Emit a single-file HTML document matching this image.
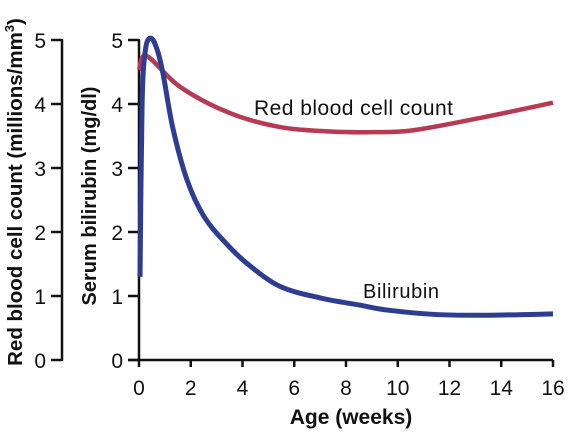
<!DOCTYPE html>
<html><head><meta charset="utf-8"><style>
body{margin:0;background:#fff}
svg text{font-family:"Liberation Sans",Arial,sans-serif;fill:#111}
</style></head><body>
<svg width="578" height="437" viewBox="0 0 578 437">
<g id="axes"></g><g id="series"></g>
<text x="254" y="115" font-size="21" textLength="199">Red blood cell count</text>
<text x="363" y="298" font-size="20" textLength="76">Bilirubin</text>
<text x="351" y="424" font-size="21" font-weight="bold" text-anchor="middle">Age (weeks)</text>
<text transform="translate(96,196) rotate(-90)" font-size="20" font-weight="bold" text-anchor="middle">Serum bilirubin (mg/dl)</text>
<text transform="translate(22,192) rotate(-90)" font-size="20.5" font-weight="bold" text-anchor="middle">Red blood cell count (millions/mm<tspan font-size="13" dy="-8">3</tspan><tspan dy="8">)</tspan></text>
</svg>
<script>
const xTicks=[0,2,4,6,8,10,12,14,16];
const yTicks=[0,1,2,3,4,5];
const bilX=[0.04,0.12,0.25,0.46,0.7,0.93,1.31,1.86,2.5,3.3,4.2,5.45,7.0,8.5,9.6,11.5,13.5,16];
const bilY=[1.3,4.0,4.85,5.03,4.85,4.47,3.62,2.81,2.25,1.85,1.5,1.15,0.97,0.86,0.78,0.71,0.70,0.72];
const rbcX=[0,0.3,1.58,3.5,5.45,7.4,9,10.6,13.4,16];
const rbcY=[4.53,4.75,4.27,3.86,3.64,3.57,3.56,3.59,3.8,4.02];
const NS='http://www.w3.org/2000/svg';
const sx=v=>139+v*(553-139)/16, sy=v=>360-v*64;
const ax=document.getElementById('axes'), se=document.getElementById('series');
function mk(tag,a,p){const e=document.createElementNS(NS,tag);for(const k in a)e.setAttribute(k,a[k]);p.appendChild(e);return e;}
let l=mk('line',{x1:128,y1:360,x2:553,y2:360,stroke:'#111','stroke-width':2.5},ax);


l=mk('line',{x1:139,y1:39,x2:139,y2:361,stroke:'#111','stroke-width':2.5},ax);


l=mk('line',{x1:62,y1:39,x2:62,y2:361,stroke:'#111','stroke-width':2.5},ax);


xTicks.forEach(t=>{
 let k=mk('line',{x1:sx(t),y1:360,x2:sx(t),y2:367,stroke:'#111','stroke-width':2.5},ax);
 
 
 let tx=mk('text',{x:sx(t),y:395,'font-size':21,'text-anchor':'middle'},ax);tx.textContent=t;
 
 
});
yTicks.forEach(t=>{
 [[139,'bilirubin'],[62,'rbc']].forEach(([x0,n])=>{
 let k=mk('line',{x1:x0-11,y1:sy(t),x2:x0,y2:sy(t),stroke:'#111','stroke-width':2.5},ax);
 
 
 let tx=mk('text',{x:x0-16,y:sy(t)+8,'font-size':21,'text-anchor':'end'},ax);tx.textContent=t;
 
 
 });
});
function path(xs,ys){const p=xs.map((x,i)=>[sx(x),sy(ys[i])]);let d='M'+p[0][0]+','+p[0][1];
 for(let i=0;i<p.length-1;i++){const p0=p[i-1]||p[i],p1=p[i],p2=p[i+1],p3=p[i+2]||p2;
 d+=' C'+(p1[0]+(p2[0]-p0[0])/6)+','+(p1[1]+(p2[1]-p0[1])/6)+' '+(p2[0]-(p3[0]-p1[0])/6)+','+(p2[1]-(p3[1]-p1[1])/6)+' '+p2[0]+','+p2[1];}
 return d;}
let r=mk('path',{d:path(rbcX,rbcY),fill:'none',stroke:'#b83a52','stroke-width':4.5},se);


let b=mk('path',{d:path(bilX,bilY),fill:'none',stroke:'#2e3d92','stroke-width':5},se);


</script>
</body></html>
